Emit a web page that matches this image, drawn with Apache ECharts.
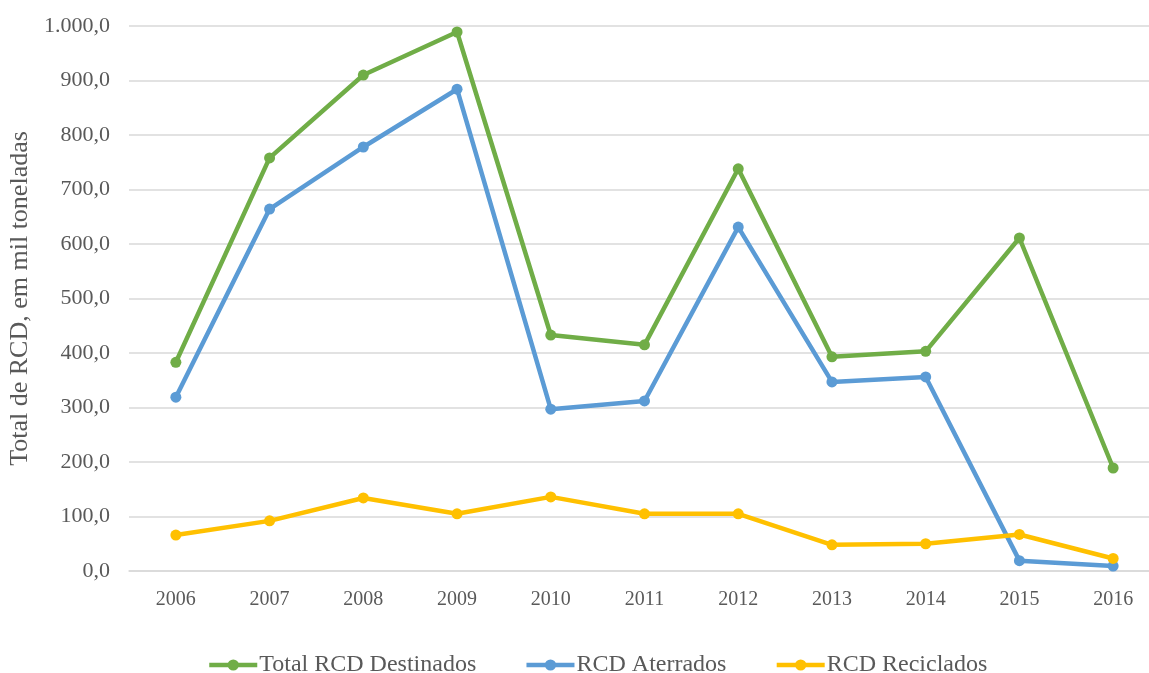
<!DOCTYPE html>
<html>
<head>
<meta charset="utf-8">
<script src="https://cdn.jsdelivr.net/npm/echarts@6/dist/echarts.min.js"></script>
<style>html,body{margin:0;padding:0;background:#fff;}#c{width:1149px;height:673px;}</style>
</head>
<body>
<div id="c"></div>
<script>
const categories = ['2006','2007','2008','2009','2010','2011','2012','2013','2014','2015','2016'];
const totalDestinados = [383, 758, 910, 989, 433, 415, 738, 393, 403, 611, 189];
const aterrados = [319, 664, 778, 884, 297, 312, 631, 347, 356, 19, 9];
const reciclados = [66, 92, 134, 105, 136, 105, 105, 48, 50, 67, 23];
const yTicks = [0, 100, 200, 300, 400, 500, 600, 700, 800, 900, 1000];

const fontFam = '"Liberation Serif", "Times New Roman", serif';
const chart = echarts.init(document.getElementById('c'));
function fmt(v){
  const s = Math.round(v).toString().replace(/\B(?=(\d{3})+(?!\d))/g, '.');
  return s + ',0';
}
function mk(name, data, color){
  return {name, type:'line', data, symbol:'circle', symbolSize:11,
    lineStyle:{width:4.5, color}, itemStyle:{color}, emphasis:{disabled:true}};
}
chart.setOption({
  animation:false,
  textStyle:{fontFamily:fontFam},
  grid:{left:129, top:26, width:1031, height:545, containLabel:false, outerBoundsMode:'none'},
  xAxis:{type:'category', data:categories, boundaryGap:true,
    axisLine:{show:true, lineStyle:{color:'#d9d9d9', width:1.5}},
    axisTick:{show:false},
    axisLabel:{color:'#595959', fontSize:20, fontFamily:fontFam, margin:19}},
  yAxis:{type:'value', min:yTicks[0], max:yTicks[yTicks.length-1], interval:100,
    name:'Total de RCD, em mil toneladas', nameLocation:'middle', nameGap:93,
    nameTextStyle:{color:'#595959', fontSize:26, fontFamily:fontFam},
    axisLine:{show:false}, axisTick:{show:false},
    axisLabel:{color:'#595959', fontSize:22, fontFamily:fontFam, margin:19, formatter:fmt},
    splitLine:{lineStyle:{color:'#d9d9d9', width:1.5}}},
  legend:{top:648, left:202, itemWidth:48, itemHeight:14, itemGap:48,
    lineStyle:{width:4.5},
    textStyle:{color:'#595959', fontSize:24, fontFamily:fontFam, padding:[0,0,0,-3]},
    data:['Total RCD Destinados','RCD Aterrados','RCD Reciclados']},
  series:[
    mk('Total RCD Destinados', totalDestinados, '#70AD47'),
    mk('RCD Aterrados', aterrados, '#5B9BD5'),
    mk('RCD Reciclados', reciclados, '#FFC000')
  ]
});
</script>
</body>
</html>
